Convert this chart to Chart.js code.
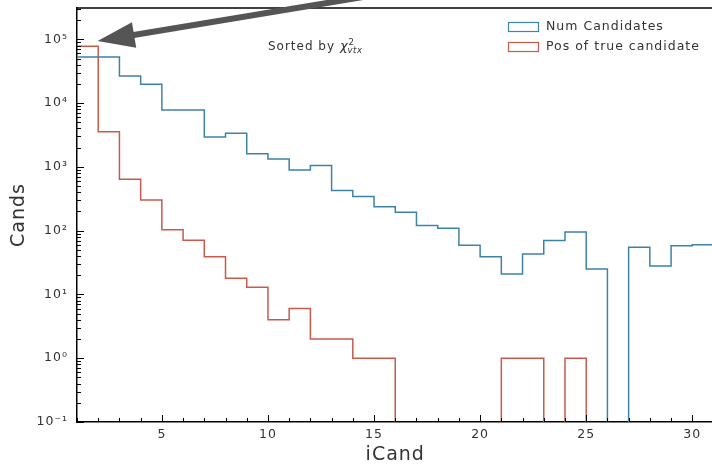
<!DOCTYPE html>
<html>
<head>
<meta charset="utf-8">
<script src="https://cdn.jsdelivr.net/npm/chart.js@4/dist/chart.umd.min.js"></script>
<style>
  html, body { margin: 0; padding: 0; background: #fff; overflow: hidden; }
  #wrap { position: relative; width: 714px; height: 465px; }
</style>
</head>
<body>
<div id="wrap"><canvas id="c" width="714" height="465"></canvas></div>
<script>
// Candidate index (left edge of each unit-wide bin)
const iCand = [1, 2, 3, 4, 5, 6, 7, 8, 9, 10, 11, 12, 13, 14, 15,
               16, 17, 18, 19, 20, 21, 22, 23, 24, 25, 26, 27, 28, 29, 30];

// Number of events having a candidate at this index
const numCandidates = [53000, 53000, 26600, 19700, 7800, 7800, 2950, 3370, 1610, 1330,
                       895, 1050, 425, 342, 238, 195, 120, 109, 59, 39,
                       21, 43, 70, 95, 25, 0, 55, 28, 58, 60];

// Position of the true candidate in the sorted list
const truePosition = [77600, 3570, 641, 303, 103, 71, 39, 18, 13, 4,
                      6, 2, 2, 1, 1, 0, 0, 0, 0, 0,
                      1, 1, 0, 1, 0, 0, 0, 0, 0, 0];

const seriesLabels = ['Num Candidates', 'Pos of true candidate'];
const xTickValues = [5, 10, 15, 20, 25, 30];
const yTickExponents = [-1, 0, 1, 2, 3, 4, 5];

const BLUE = '#3d83a8';
const RED = '#c95a4b';
const TEXT = '#333333';
const EMPTY_BIN = 1e-3;   // empty bins sit below the log axis and are clipped

// Histogram outline: one point per bin edge, last bin closed at its right edge
function stepPoints(values) {
  const pts = iCand.map((x, i) => ({ x: x, y: values[i] > 0 ? values[i] : EMPTY_BIN }));
  const last = values.length - 1;
  pts.push({ x: iCand[last] + 1, y: values[last] > 0 ? values[last] : EMPTY_BIN });
  return pts;
}

const SUP = { '-': '\u207B', '0': '\u2070', '1': '\u00B9', '2': '\u00B2', '3': '\u00B3',
              '4': '\u2074', '5': '\u2075', '6': '\u2076', '7': '\u2077', '8': '\u2078', '9': '\u2079' };
function powerLabel(v) {
  const e = Math.round(Math.log10(v));
  return '10' + String(e).split('').map(ch => SUP[ch]).join('');
}

const textSpacing = {
  id: 'textSpacing',
  beforeUpdate(chart) { chart.ctx.letterSpacing = '1px'; },
  beforeDraw(chart) { chart.ctx.letterSpacing = '1px'; }
};

// Inward ticks, top spine, legend, annotation text and arrow
const decorations = {
  id: 'decorations',
  afterDraw(chart) {
    const { ctx, chartArea: a, scales: { x, y } } = chart;
    ctx.save();
    ctx.strokeStyle = '#000';
    ctx.lineWidth = 1;

    // y-axis major / minor ticks
    for (let e = -1; e <= 5; e++) {
      for (let m = 1; m <= 9; m++) {
        const v = m * Math.pow(10, e);
        if (v < y.min || v > y.max) continue;
        const py = Math.round(y.getPixelForValue(v)) + 0.5;
        const len = m === 1 ? 7 : 4;
        ctx.beginPath();
        ctx.moveTo(a.left, py);
        ctx.lineTo(a.left + len, py);
        ctx.stroke();
      }
    }
    // x-axis major / minor ticks
    for (let v = Math.ceil(x.min); v <= x.max; v++) {
      const px = Math.round(x.getPixelForValue(v)) + 0.5;
      const len = v % 5 === 0 ? 7 : 4;
      ctx.beginPath();
      ctx.moveTo(px, a.bottom);
      ctx.lineTo(px, a.bottom - len);
      ctx.stroke();
    }
    // top spine
    ctx.lineWidth = 1.5;
    ctx.beginPath();
    ctx.moveTo(a.left, a.top);
    ctx.lineTo(a.right, a.top);
    ctx.stroke();

    // legend
    ctx.letterSpacing = '1px';
    ctx.font = '12.5px "DejaVu Sans"';
    ctx.textBaseline = 'middle';
    ctx.textAlign = 'left';
    const colors = [BLUE, RED];
    const bx = a.right - 205.5;
    seriesLabels.forEach((label, i) => {
      const by = 22 + i * 20;
      ctx.lineWidth = 1.2;
      ctx.strokeStyle = colors[i];
      ctx.fillStyle = '#fff';
      ctx.fillRect(bx, by, 30, 9);
      ctx.strokeRect(bx + 0.5, by + 0.5, 30, 9);
      ctx.fillStyle = TEXT;
      ctx.fillText(label, bx + 38, by + 5);
    });

    // "Sorted by chi^2_vtx"
    const tx = x.getPixelForValue(10);
    const ty = y.getPixelForValue(6.8e4);
    ctx.textBaseline = 'alphabetic';
    ctx.fillStyle = TEXT;
    ctx.font = '12px "DejaVu Sans"';
    ctx.fillText('Sorted by ', tx, ty);
    let cx = tx + ctx.measureText('Sorted by ').width;
    ctx.font = 'italic 13px "DejaVu Sans"';
    ctx.fillText('\u03C7', cx, ty);
    cx += ctx.measureText('\u03C7').width;
    ctx.letterSpacing = '0.5px';
    ctx.font = '8.5px "DejaVu Sans"';
    ctx.fillText('2', cx, ty - 5);
    ctx.font = 'italic 8.5px "DejaVu Sans"';
    ctx.fillText('vtx', cx - 1, ty + 3);

    // arrow pointing at the first bin
    const tip = { x: x.getPixelForValue(1.97), y: y.getPixelForValue(9.4e4) };
    const tail = { x: x.getPixelForValue(14.8), y: y.getPixelForValue(4.8e5) };
    const dx = tail.x - tip.x, dy = tail.y - tip.y;
    const L = Math.hypot(dx, dy);
    const ux = dx / L, uy = dy / L, nx = -uy, ny = ux;
    const headLen = 37, headHalf = 13;
    const base = { x: tip.x + ux * headLen, y: tip.y + uy * headLen };
    ctx.strokeStyle = '#555';
    ctx.fillStyle = '#555';
    ctx.lineWidth = 6;
    ctx.beginPath();
    ctx.moveTo(base.x - ux * 2, base.y - uy * 2);
    ctx.lineTo(tail.x, tail.y);
    ctx.stroke();
    ctx.beginPath();
    ctx.moveTo(tip.x, tip.y);
    ctx.lineTo(base.x + nx * headHalf, base.y + ny * headHalf);
    ctx.lineTo(base.x - nx * headHalf, base.y - ny * headHalf);
    ctx.closePath();
    ctx.fill();
    ctx.restore();
  }
};

Chart.defaults.font.family = '"DejaVu Sans"';
Chart.defaults.color = TEXT;

new Chart(document.getElementById('c'), {
  type: 'line',
  data: {
    datasets: [
      {
        label: seriesLabels[0],
        data: stepPoints(numCandidates),
        borderColor: BLUE,
        borderWidth: 1.5,
        stepped: 'before',
        pointRadius: 0,
        fill: false
      },
      {
        label: seriesLabels[1],
        data: stepPoints(truePosition),
        borderColor: RED,
        borderWidth: 1.5,
        stepped: 'before',
        pointRadius: 0,
        fill: false
      }
    ]
  },
  options: {
    responsive: false,
    animation: false,
    layout: { padding: { top: 8, right: 0.5, left: 0, bottom: 0 } },
    plugins: {
      legend: { display: false },
      tooltip: { enabled: false }
    },
    scales: {
      x: {
        type: 'linear',
        min: 1,
        max: 31,
        afterBuildTicks(scale) { scale.ticks = xTickValues.map(v => ({ value: v })); },
        afterFit(scale) {
          scale.height = 43;
          scale.paddingLeft = 0;
          scale.paddingRight = 0;
        },
        ticks: {
          font: { size: 12.5 },
          color: TEXT,
          padding: 5,
          maxRotation: 0,
          callback: v => String(v)
        },
        grid: { display: false, drawTicks: false },
        border: { display: true, color: '#000', width: 1.5 },
        title: {
          display: true,
          text: 'iCand',
          color: TEXT,
          font: { size: 19, lineHeight: 1.0 },
          padding: { top: 0, bottom: 0 }
        }
      },
      y: {
        type: 'logarithmic',
        min: 0.1,
        max: 3.1e5,
        afterBuildTicks(scale) {
          scale.ticks = yTickExponents.map(e => ({ value: Math.pow(10, e), major: true }));
        },
        afterFit(scale) {
          scale.width = 77;
          scale.paddingTop = 0;
          scale.paddingBottom = 0;
        },
        ticks: {
          font: { size: 12.5 },
          color: TEXT,
          padding: 9,
          callback: v => powerLabel(v)
        },
        grid: { display: false, drawTicks: false },
        border: { display: true, color: '#000', width: 1.5 },
        title: {
          display: true,
          text: 'Cands',
          color: TEXT,
          font: { size: 19, lineHeight: 1.0 },
          padding: { top: 10, bottom: 0 }
        }
      }
    }
  },
  plugins: [textSpacing, decorations]
});
</script>
</body>
</html>
